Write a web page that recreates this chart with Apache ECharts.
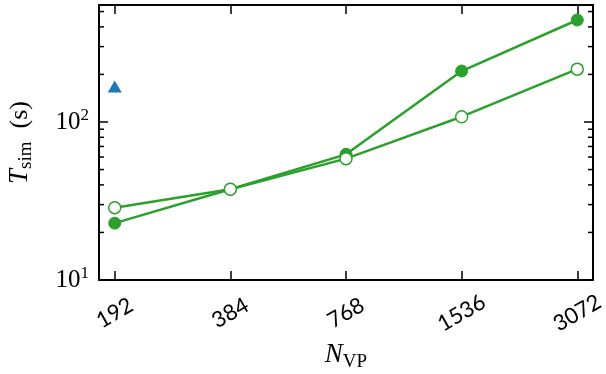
<!DOCTYPE html>
<html>
<head>
<meta charset="utf-8">
<script src="https://cdn.jsdelivr.net/npm/echarts@6/dist/echarts.min.js"></script>
<style>
  html, body { margin: 0; padding: 0; background: #fff; }
  #main { width: 606px; height: 374px; }
</style>
</head>
<body>
<div id="main"></div>
<script>
// N_VP categories, evenly spaced (doubling)
var categories = ["192", "384", "768", "1536", "3072"];
// T_sim (s)
var filledTimes = [22.9, 37.5, 62.4, 210, 442];
var openTimes = [28.7, 37.5, 58.6, 108, 216];
var triangleTimes = [168];
// log axis ticks
var yMajorTicks = [10, 100];
var yMinorTicks = [20, 30, 40, 50, 60, 70, 80, 90, 200, 300, 400, 500];

var green = "#2ca02c";
var blue = "#1f77b4";
var serif = "'Liberation Serif', 'DejaVu Serif', serif";

function pairs(values) {
  return values.map(function (v, i) { return [i, v]; });
}
var tickIdx = categories.map(function (c, i) { return i; });

var xPad = 0.136;
var axisLine = { onZero: false, lineStyle: { color: "#000", width: 2 } };
var majorTick = { inside: true, length: 9, lineStyle: { color: "#000", width: 1.5 } };

var nameRich = {
  i: { fontFamily: serif, fontStyle: "italic", fontSize: 27, color: "#000", lineHeight: 32 },
  sub: { fontFamily: serif, fontSize: 19, color: "#000", verticalAlign: "bottom", lineHeight: 32 },
  r: { fontFamily: serif, fontSize: 26, color: "#000", lineHeight: 32 }
};

var chart = echarts.init(document.getElementById("main"));
chart.setOption({
  animation: false,
  grid: { left: 99, right: 13, top: 5, bottom: 94, outerBoundsMode: "none" },
  xAxis: [
    {
      type: "value",
      position: "bottom",
      min: -xPad,
      max: categories.length - 1 + xPad,
      axisLine: axisLine,
      axisTick: Object.assign({ customValues: tickIdx }, majorTick),
      splitLine: { show: false },
      axisLabel: {
        customValues: tickIdx,
        formatter: function (v) { return categories[Math.round(v)]; },
        rotate: 30,
        align: "center",
        verticalAlign: "middle",
        margin: 33,
        fontFamily: "Lato",
        fontSize: 22,
        color: "#000"
      },
      name: "{i|N}{sub|VP}",
      nameLocation: "middle",
      nameGap: 58,
      nameTextStyle: { rich: nameRich }
    },
    {
      type: "value",
      position: "top",
      min: -xPad,
      max: categories.length - 1 + xPad,
      axisLine: axisLine,
      axisTick: Object.assign({ customValues: tickIdx }, majorTick),
      axisLabel: { show: false },
      splitLine: { show: false }
    }
  ],
  yAxis: [
    {
      type: "log",
      position: "left",
      min: 10,
      max: 550,
      axisLine: axisLine,
      axisTick: majorTick,
      splitLine: { show: false },
      axisLabel: {
        showMaxLabel: false,
        margin: 10,
        formatter: function (v) {
          for (var k = 0; k < yMajorTicks.length; k++) {
            if (Math.abs(v - yMajorTicks[k]) < 1e-6 * v) {
              return "{b|10}{sup|" + Math.round(Math.log10(v)) + "}";
            }
          }
          return "";
        },
        rich: {
          b: { fontFamily: serif, fontSize: 25, color: "#000", lineHeight: 30 },
          sup: { fontFamily: serif, fontSize: 17, color: "#000", verticalAlign: "top", lineHeight: 30 }
        }
      },
      name: "{i|T}{sub|sim}{r|\u2002(s)}",
      nameLocation: "middle",
      nameGap: 63,
      nameTextStyle: { rich: nameRich }
    },
    {
      type: "log",
      position: "right",
      min: 10,
      max: 550,
      axisLine: axisLine,
      axisTick: majorTick,
      axisLabel: { show: false },
      splitLine: { show: false }
    }
  ],
  series: [
    {
      // minor ticks of the log axis, left and right
      type: "custom",
      silent: true,
      clip: false,
      z: 1,
      data: yMinorTicks.map(function (v) { return [0, v]; }),
      renderItem: function (params, api) {
        var y = api.coord([0, api.value(1)])[1];
        var cs = params.coordSys;
        var st = { stroke: "#000", lineWidth: 1.5 };
        return {
          type: "group",
          children: [
            { type: "line", shape: { x1: cs.x, y1: y, x2: cs.x + 5, y2: y }, style: st },
            { type: "line", shape: { x1: cs.x + cs.width - 5, y1: y, x2: cs.x + cs.width, y2: y }, style: st }
          ]
        };
      }
    },
    {
      type: "line",
      data: pairs(filledTimes),
      symbol: "circle",
      symbolSize: 12,
      lineStyle: { color: green, width: 2.5 },
      itemStyle: { color: green, borderColor: green, borderWidth: 1 },
      z: 3
    },
    {
      type: "line",
      data: pairs(openTimes),
      symbol: "circle",
      symbolSize: 12,
      showAllSymbol: true,
      lineStyle: { color: green, width: 2.5 },
      itemStyle: { color: "#fff", borderColor: green, borderWidth: 1.5 },
      z: 4
    },
    {
      type: "scatter",
      data: pairs(triangleTimes),
      symbol: "triangle",
      symbolSize: [14, 12],
      itemStyle: { color: blue, opacity: 1 },
      z: 5
    }
  ]
});
</script>
</body>
</html>
